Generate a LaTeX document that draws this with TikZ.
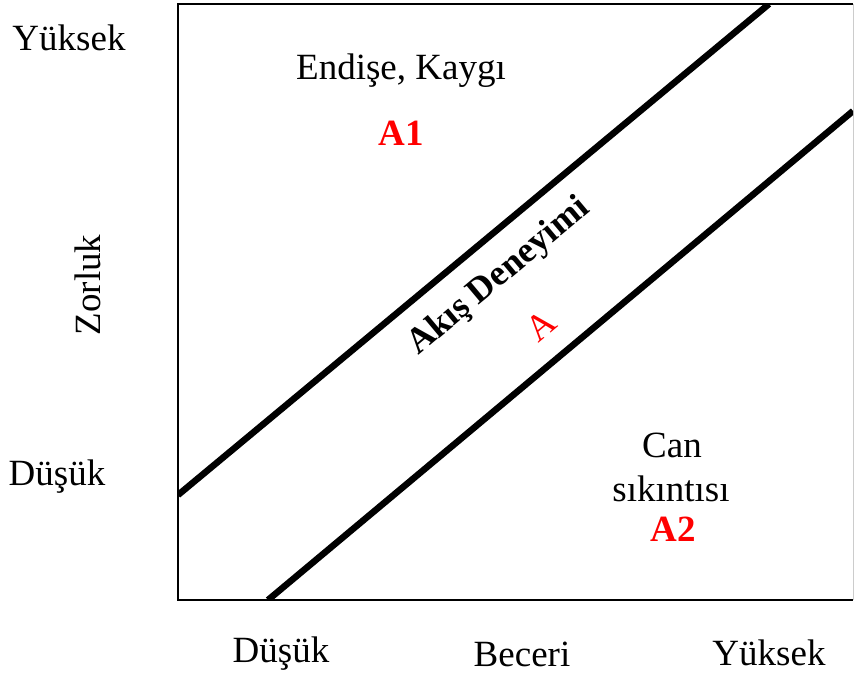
\documentclass[tikz,border=0pt]{standalone}
\usepackage{fontspec}
\setmainfont{Liberation Serif}
\definecolor{lblred}{RGB}{255,0,0}
\begin{document}
\begin{tikzpicture}[x=1pt,y=-1pt,
  lbl/.style={inner sep=0pt,font=\fontsize{37}{42}\selectfont},
  redlbl/.style={inner sep=0pt,text=lblred,font=\fontsize{37}{42}\selectfont\bfseries},
  diagline/.style={line width=6.5pt},
  frame/.style={line width=2.5pt}]
\useasboundingbox (0,0) rectangle (854,681);
% frame
\coordinate (tl) at (178,4);
\coordinate (bl) at (178,600);
\coordinate (br) at (853,600);
\coordinate (tr) at (853,4);
\draw[frame] (tr) -- (tl) -- (bl) -- (br);
\draw[gray!40,line width=1pt] (tr) -- (br);
% diagonal lines
\coordinate (u1) at (178,495);
\coordinate (u2) at (769,4);
\coordinate (l1) at (268,600);
\coordinate (l2) at (853,111);
\begin{scope}
\clip (tl) rectangle (br);
\draw[diagline] (u1) -- (u2);
\draw[diagline] (l1) -- (l2);
\end{scope}
% axis labels
\node[lbl] (yhigh) at (69,38) {Yüksek};
\node[lbl,rotate=90] (zorluk) at (88,285) {Zorluk};
\node[lbl] (ylow) at (57,477) {Düşük};
\node[lbl] (xlow) at (281,654) {Düşük};
\node[lbl] (beceri) at (522,654) {Beceri};
\node[lbl] (xhigh) at (769,653) {Yüksek};
% regions
\node[lbl] (endise) at (401,71) {Endişe, Kaygı};
\node[redlbl] (a1) at (401,133) {A1};
\node[lbl,font=\fontsize{36}{42}\selectfont\bfseries,rotate=40] (akis) at (499,277) {Akış Deneyimi};
\node[lbl,text=lblred,rotate=40] (a) at (541,326) {A};
\node[lbl] (can) at (672,445) {Can};
\node[lbl] (sikinti) at (671,489) {sıkıntısı};
\node[redlbl] (a2) at (673,529) {A2};
\end{tikzpicture}
\end{document}
